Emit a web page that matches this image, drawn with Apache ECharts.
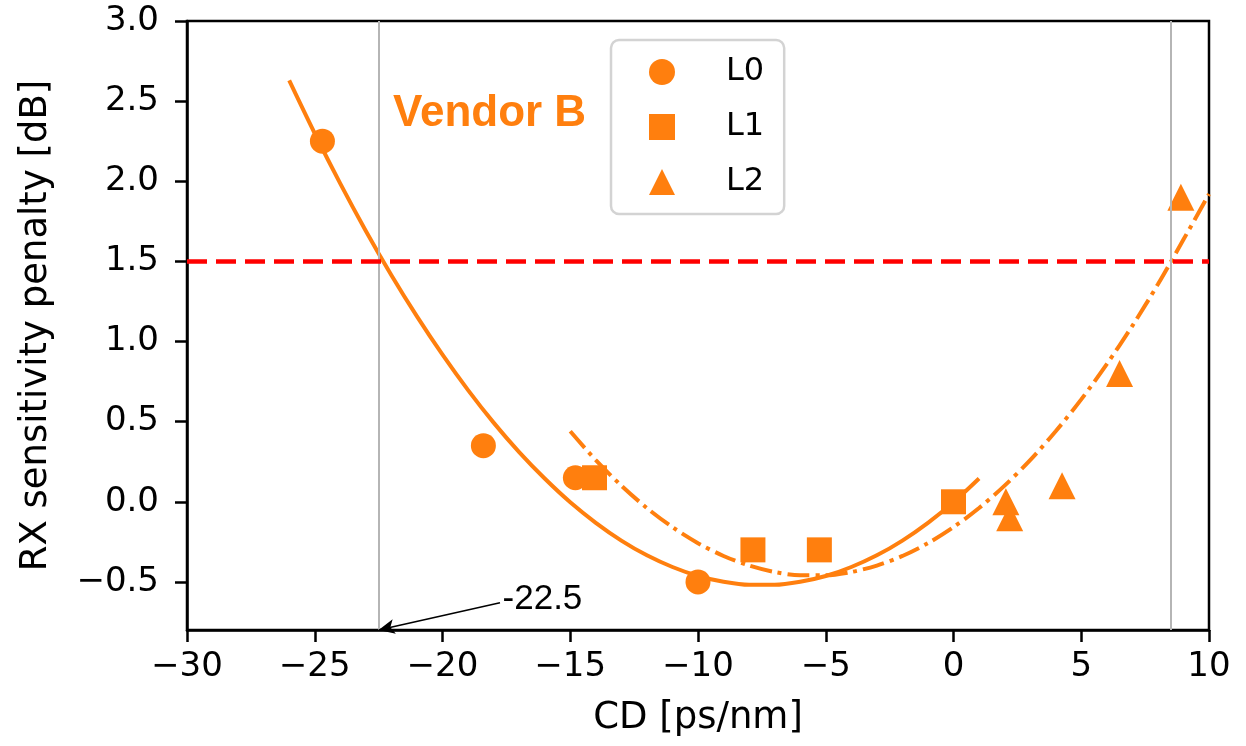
<!DOCTYPE html>
<html><head><meta charset="utf-8">
<script src="https://cdn.jsdelivr.net/npm/echarts@6/dist/echarts.min.js"></script>
<style>html,body{margin:0;padding:0;background:#fff}#c{width:1246px;height:746px}</style>
</head><body><div id="c"></div>
<script>
// ---- data ----
const xTicks = [-30, -25, -20, -15, -10, -5, 0, 5, 10];
const yTicks = [-0.5, 0.0, 0.5, 1.0, 1.5, 2.0, 2.5, 3.0];
const L0 = [[-24.7, 2.25], [-18.4, 0.35], [-14.8, 0.15], [-10.0, -0.50]];
const L1 = [[-14.05, 0.15], [-7.85, -0.30], [-5.25, -0.30], [0.0, 0.0]];
const L2 = [[2.05, 0.0], [2.2, -0.10], [4.25, 0.10], [6.5, 0.80], [8.9, 1.90]];
const fitL0X = [-26,-25,-24,-23,-22,-21,-20,-19,-18,-17,-16,-15,-14,-13,-12,-11,-10,-9,-8,-7,-6,-5,-4,-3,-2,-1,0,1];
const fitL0Y = [2.629,2.298,1.985,1.690,1.414,1.157,0.918,0.697,0.494,0.310,0.145,-0.003,-0.131,-0.242,-0.334,-0.407,-0.463,-0.499,-0.518,-0.518,-0.499,-0.463,-0.407,-0.334,-0.242,-0.131,-0.003,0.145];
const fitL12X = [-15,-14,-13,-12,-11,-10,-9,-8,-7,-6,-5,-4,-3,-2,-1,0,1,2,3,4,5,6,7,8,9,10];
const fitL12Y = [0.440,0.260,0.101,-0.039,-0.158,-0.258,-0.338,-0.398,-0.438,-0.458,-0.458,-0.438,-0.398,-0.338,-0.258,-0.158,-0.039,0.101,0.260,0.440,0.639,0.859,1.098,1.357,1.636,1.920];
const limitY = 1.5;
const crossX = [-22.5, 8.5];
const annotText = '-22.5';
const annotFrom = [-17.75, -0.63];
const annotTextAt = [-17.65, -0.61];
const annotTo = [-22.5, -0.8];
const titleText = 'Vendor B';

const ORANGE = '#ff7f0e';
const zip = (xs, ys) => xs.map((x, i) => [x, ys[i]]);
const fmtMinus = s => String(s).replace('-', '\u2212');
const FONT = 'DejaVu Sans';

const chart = echarts.init(document.getElementById('c'), null, {renderer: 'canvas'});
chart.setOption({
  animation: false,
  backgroundColor: '#ffffff',
  title: {
    text: titleText, left: 393, top: 92, padding: 0,
    textStyle: {color: ORANGE, fontFamily: 'Liberation Sans', fontWeight: 'bold', fontSize: 44}
  },
  legend: {
    orient: 'vertical', left: 611, top: 40,
    data: ['L0', 'L1', 'L2'],
    padding: [16, 20, 16, 38],
    itemWidth: 26, itemHeight: 26, itemGap: 23,
    backgroundColor: 'rgba(255,255,255,0.85)',
    borderColor: '#d3d3d3', borderWidth: 2.5, borderRadius: 8,
    textStyle: {fontFamily: FONT, fontSize: 32, color: '#000', lineHeight: 32, padding: [0, 0, 0, 46]}
  },
  grid: {left: 187, right: 37, top: 21, bottom: 116, outerBoundsMode: 'none', containLabel: false,
    show: true, borderColor: '#000', borderWidth: 2.5, backgroundColor: 'transparent'},
  xAxis: {
    type: 'value', min: -30, max: 10, interval: 5,
    name: 'CD [ps/nm]', nameLocation: 'middle', nameGap: 70,
    nameTextStyle: {fontFamily: FONT, fontSize: 37, color: '#000'},
    axisLine: {onZero: false, lineStyle: {color: '#000', width: 2.5}},
    axisTick: {show: true, length: 12, lineStyle: {color: '#000', width: 2.5}, customValues: xTicks},
    axisLabel: {fontFamily: FONT, fontSize: 34, color: '#000', margin: 20, customValues: xTicks, formatter: v => fmtMinus(v)},
    splitLine: {show: false}
  },
  yAxis: {
    type: 'value', min: -0.8, max: 3.0,
    name: 'RX sensitivity penalty [dB]', nameLocation: 'middle', nameGap: 132,
    nameTextStyle: {fontFamily: FONT, fontSize: 37, color: '#000'},
    axisLine: {show: true, onZero: false, lineStyle: {color: '#000', width: 2.5}},
    axisTick: {show: true, length: 12, lineStyle: {color: '#000', width: 2.5}, customValues: yTicks},
    axisLabel: {fontFamily: FONT, fontSize: 34, color: '#000', margin: 28, customValues: yTicks, formatter: v => fmtMinus(Number(v).toFixed(1))},
    splitLine: {show: false}
  },
  series: [
    {
      name: 'refs', type: 'line', data: [], silent: true, z: 1,
      markLine: {
        silent: true, symbol: 'none', animation: false, label: {show: false},
        data: [
          {xAxis: crossX[0], lineStyle: {color: '#b5b5b5', width: 2, type: 'solid'}},
          {xAxis: crossX[1], lineStyle: {color: '#b5b5b5', width: 2, type: 'solid'}},
          {yAxis: limitY, lineStyle: {color: '#ff0000', width: 4.5, type: [20, 9], cap: 'butt'}}
        ]
      }
    },
    {
      name: 'fitL0', type: 'line', data: zip(fitL0X, fitL0Y), smooth: 0.3, symbol: 'none', z: 2,
      lineStyle: {color: ORANGE, width: 4}
    },
    {
      name: 'fitL12', type: 'line', data: zip(fitL12X, fitL12Y), smooth: 0.3, symbol: 'none', z: 2,
      lineStyle: {color: ORANGE, width: 4, type: [22, 6, 4, 6], cap: 'butt'}
    },
    {name: 'L0', type: 'scatter', data: L0, symbol: 'circle', symbolSize: 25, itemStyle: {color: ORANGE, opacity: 1}, z: 3},
    {name: 'L1', type: 'scatter', data: L1, symbol: 'rect', symbolSize: 25, itemStyle: {color: ORANGE, opacity: 1}, z: 3},
    {name: 'L2', type: 'scatter', data: L2, symbol: 'triangle', symbolSize: 27, itemStyle: {color: ORANGE, opacity: 1}, z: 3},
    {
      name: 'annot', type: 'line', data: [], z: 4, silent: true,
      markLine: {
        silent: true, animation: false, symbol: ['none', 'arrow'], symbolSize: [11, 16], label: {show: false},
        lineStyle: {color: '#000', width: 1.5, type: 'solid'},
        data: [[{coord: annotFrom}, {coord: annotTo}]]
      }
    }
  ]
});
const p = chart.convertToPixel({gridIndex: 0}, annotTextAt);
chart.setOption({
  graphic: [{
    type: 'text', x: p[0], y: p[1], z: 100, silent: true,
    style: {text: annotText, fill: '#000', font: '35px "Liberation Sans"', textAlign: 'left', textVerticalAlign: 'middle'}
  }]
});
</script></body></html>
